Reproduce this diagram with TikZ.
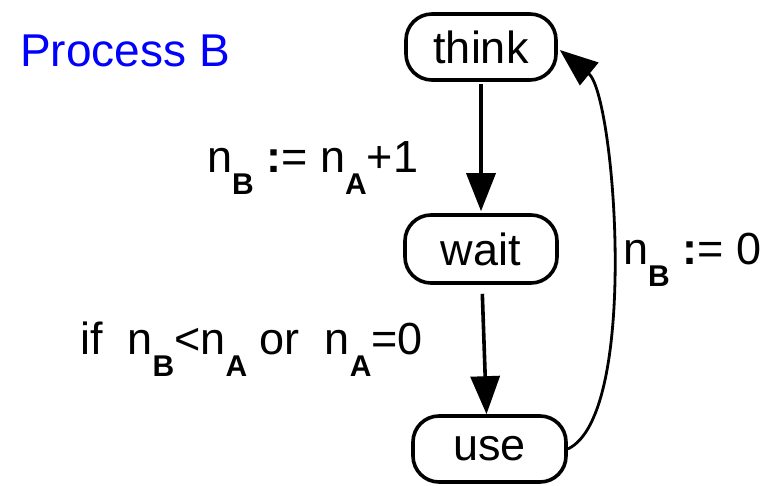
\documentclass[tikz,border=0pt]{standalone}
\usepackage{fontspec}
\setmainfont{Liberation Sans}
\usepackage{xcolor}
\usetikzlibrary{arrows.meta,positioning}
\definecolor{ink}{HTML}{000000}
\definecolor{titleblue}{HTML}{0000FF}
\newcommand{\bigtext}{\fontsize{45}{54}\selectfont}
\newcommand{\lowsub}[1]{\raisebox{-22pt}{\fontsize{30}{34}\selectfont\bfseries #1}}
\newcommand{\assignop}{{\bfseries :}=}
\tikzset{
  statebox/.style={draw=ink,fill=white,line width=3.6pt,rounded corners=26pt,
                   minimum width=150pt,minimum height=66pt,inner sep=0pt,
                   font=\bigtext},
  guardlabel/.style={anchor=base west,inner sep=0pt,font=\bigtext},
  flowarr/.style={-{Triangle[length=38pt,width=29pt]},line width=3.6pt,draw=ink},
  backarr/.style={-{Triangle[length=38pt,width=29pt]},line width=2.8pt,draw=ink}
}
\begin{document}
\begin{tikzpicture}[x=1pt,y=1pt]
        \path[use as bounding box] (0,0) rectangle (782,485);
        \node[statebox] (think) at (481,438) {think};
        \node[statebox,minimum width=152pt,minimum height=68pt] (wait) at (481,236) {wait};
        \node[statebox,minimum width=153pt] (use) at (489.5,36) {use};
        \node[guardlabel,font=\fontsize{46}{55}\selectfont\color{titleblue}] (title)
          at (20,418) {Process B};
        \node[guardlabel] (assign) at (207,312)
          {n\lowsub{B} \assignop{} n\lowsub{A}+1};
        \node[guardlabel] (guard) at (80,130)
          {if\ \ n\lowsub{B}<n\lowsub{A} or\ \ n\lowsub{A}=0};
        \node[guardlabel] (reset) at (623,220) {n\lowsub{B} \assignop{} 0};
        \draw[flowarr,shorten <=2pt,shorten >=2pt] (think.south) -- (wait.north);
        \draw[flowarr,shorten <=9pt] (wait.south) ++(1,0) -- ([xshift=-3pt]use.north);
        \draw[backarr] (use.east) .. controls (640,70) and (615,390) .. ([xshift=2pt,yshift=-3pt]think.east);
      \end{tikzpicture}
\end{document}
